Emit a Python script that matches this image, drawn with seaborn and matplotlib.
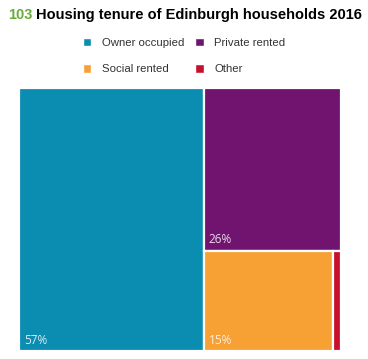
import matplotlib
matplotlib.use("Agg")
import matplotlib.pyplot as plt
from matplotlib.patches import Rectangle
import seaborn as sns

# housing tenure shares (%)
categories = ["Owner occupied", "Private rented", "Social rented", "Other"]
shares = [57.3, 26.4, 15.4, 0.9]
labels = ["57%", "26%", "15%", ""]
colours = ["#0a8db0", "#711470", "#f7a033", "#c8102e"]

sns.set_style("white")
plt.rcParams["font.family"] = ["Liberation Sans", "DejaVu Sans"]

fig = plt.figure(figsize=(3.68, 3.59), dpi=100)
ax = fig.add_axes([19 / 368, 8 / 359, 322 / 368, 263 / 359])

# simple slice-and-dice layout: owner column, then private on top of social+other
total = sum(shares)
w0 = shares[0] / total
rest = total - shares[0]
h1 = shares[1] / rest
bottom = shares[2] + shares[3]
w2 = (1 - w0) * shares[2] / bottom
rects = [
    (0, 0, w0, 1),
    (w0, 1 - h1, 1 - w0, h1),
    (w0, 0, w2, 1 - h1),
    (w0 + w2, 0, 1 - w0 - w2, 1 - h1),
]
for (x, y, w, h), c, lab in zip(rects, colours, labels):
    ax.add_patch(Rectangle((x, y), w, h, facecolor=c, edgecolor="white", linewidth=1.6))
    if lab:
        ax.text(x + 0.016, y + 0.016, lab, color="white", alpha=0.85, fontsize=8.5,
                family=["Open Sans", "DejaVu Sans"], ha="left", va="bottom")
ax.set_xlim(0, 1)
ax.set_ylim(0, 1)
ax.axis("off")

# title: green number then black text
t1 = fig.text(8 / 368, 1 - 15 / 359, "103", color="#6aab3a", fontsize=10.5,
              fontweight="bold", va="center", ha="left")
fig.canvas.draw()
bb = t1.get_window_extent()
fig.text((bb.x1 + 4) / 368, 1 - 15 / 359, "Housing tenure of Edinburgh households 2016",
         color="black", fontsize=10.5, fontweight="bold", va="center", ha="left")

# legend is filled row by row in the reference, matplotlib fills by column
order = [0, 2, 1, 3]
handles = [Rectangle((0, 0), 1, 1, facecolor=colours[i]) for i in order]
fig.legend(handles, [categories[i] for i in order], loc="center",
           bbox_to_anchor=(0.5, 1 - 56 / 359),
           ncol=2, frameon=False, fontsize=8.2, handlelength=0.75, handleheight=0.75,
           columnspacing=1.0, labelspacing=1.45, handletextpad=0.9, labelcolor="#333333")

fig.savefig("out.png", dpi=100)
